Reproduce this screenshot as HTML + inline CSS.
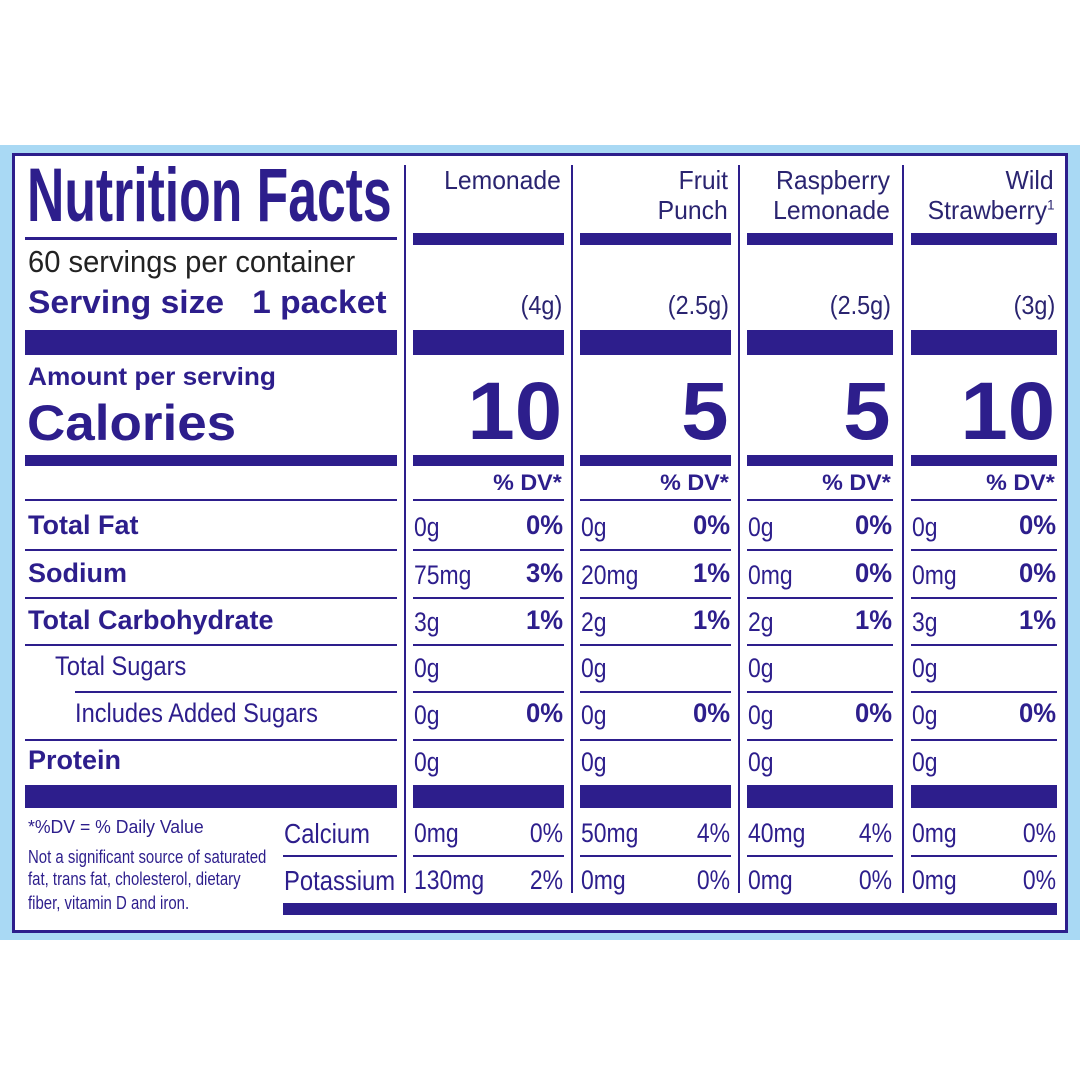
<!DOCTYPE html>
<html><head><meta charset="utf-8">
<style>
html,body{margin:0;padding:0;background:#fff;}
#c{position:relative;width:1080px;height:1080px;overflow:hidden;background:#fff;font-family:"Liberation Sans",sans-serif;color:#2d1e8c;}
.r{position:absolute;background:#2d1e8c;}
.t{position:absolute;white-space:nowrap;line-height:1;}
.L{transform-origin:left center;}
.R{transform-origin:right center;text-align:right;}
.b{font-weight:bold;}
</style></head><body>
<div id="c">
<div style="position:absolute;left:0;top:145px;width:1080px;height:795px;background:#a9d9f4;"></div>
<div style="position:absolute;left:12px;top:153px;width:1050px;height:774px;background:#fff;border:3px solid #2d1e8c;"></div>
</div>
<script>
var c=document.getElementById('c');
function rect(x,y,w,h){var d=document.createElement('div');d.className='r';d.style.cssText='left:'+x+'px;top:'+y+'px;width:'+w+'px;height:'+h+'px';c.appendChild(d);}
function txt(s,x,cy,fs,bold,align,sx,col){var d=document.createElement('div');d.className='t '+align+(bold?' b':'');d.innerHTML=s;
 var st='font-size:'+fs+'px;top:'+(cy-fs*0.55)+'px;transform:scaleX('+sx+');';
 if(align=='L')st+='left:'+x+'px;';else st+='right:'+(1080-x)+'px;';
 if(col)st+='color:'+col+';';
 d.style.cssText=st;c.appendChild(d);}
var cols=[[413,564],[580,731],[747,893],[911,1057]];
var seps=[404,571,738,902];
seps.forEach(function(x){rect(x,165,2,728);});
txt('Nutrition Facts',27,200,76,1,'L',0.68);
rect(25,237,372,3);
txt('60 servings per container',28,263,31,0,'L',0.94,'#222');
txt('Serving size&nbsp;&nbsp;&nbsp;1 packet',28,304,32,1,'L',1.05);
rect(25,330,372,25);
txt('Amount per serving',28,379,25,1,'L',1.05);
txt('Calories',27,425,50,1,'L',1.06);
rect(25,455,372,11);
rect(25,499,372,2);
var rows=[['Total Fat',527,28,1],['Sodium',575,28,1],['Total Carbohydrate',622,28,1],['Total Sugars',668,55,0],['Includes Added Sugars',715,75,0],['Protein',762,28,1]];
rows.forEach(function(r){txt(r[0],r[2],r[1],27,r[3],'L',r[3]?1.0:0.875);});
[[550,25],[598,25],[645,25],[692,75],[740,25]].forEach(function(l){rect(l[1],l[0]-1,397-l[1],2);});
rect(25,785,372,23);
txt('*%DV = % Daily Value',28,828,18,0,'L',0.98);
txt('Not a significant source of saturated',28,858,18,0,'L',0.83);
txt('fat, trans fat, cholesterol, dietary',28,880,18,0,'L',0.83);
txt('fiber, vitamin D and iron.',28,904,18,0,'L',0.83);
txt('Calcium',284,835,28,0,'L',0.85);
txt('Potassium',284,882,28,0,'L',0.85);
rect(283,855,114,2);
rect(283,903,774,12);
var hdr=[['Lemonade'],['Fruit','Punch'],['Raspberry','Lemonade'],['Wild','Strawberry<sup style="font-size:14px">1</sup>']];
var serv=['(4g)','(2.5g)','(2.5g)','(3g)'];
var cal=['10','5','5','10'];
var data=[
 [['0g','0%'],['75mg','3%'],['3g','1%'],['0g',''],['0g','0%'],['0g','']],
 [['0g','0%'],['20mg','1%'],['2g','1%'],['0g',''],['0g','0%'],['0g','']],
 [['0g','0%'],['0mg','0%'],['2g','1%'],['0g',''],['0g','0%'],['0g','']],
 [['0g','0%'],['0mg','0%'],['3g','1%'],['0g',''],['0g','0%'],['0g','']]];
var min=[[['0mg','0%'],['130mg','2%']],[['50mg','4%'],['0mg','0%']],[['40mg','4%'],['0mg','0%']],[['0mg','0%'],['0mg','0%']]];
cols.forEach(function(cc,i){
 var L=cc[0],R=cc[1],W=R-L;
 txt(hdr[i][0],R-3,181,26,0,'R',0.95,'#2a2470');
 if(hdr[i][1])txt(hdr[i][1],R-3,211,26,0,'R',0.95,'#2a2470');
 rect(L,233,W,12);
 txt(serv[i],R-2,306,26,0,'R',0.9,'#2a2470');
 rect(L,330,W,25);
 txt(cal[i],R-2,416,82,1,'R',1.04);
 rect(L,455,W,11);
 txt('% DV*',R-2,484,22,1,'R',1.06);
 rect(L,499,W,2);
 rows.forEach(function(r,j){
  txt(data[i][j][0],L+1,r[1]+2,27,0,'L',0.85);
  if(data[i][j][1])txt(data[i][j][1],R-1,r[1],27,1,'R',0.95);
 });
 [550,598,645,692,740].forEach(function(y){rect(L,y-1,W,2);});
 rect(L,785,W,23);
 txt(min[i][0][0],L+1,835,27,0,'L',0.85);txt(min[i][0][1],R-1,835,27,0,'R',0.85);
 rect(L,855,W,2);
 txt(min[i][1][0],L+1,882,27,0,'L',0.85);txt(min[i][1][1],R-1,882,27,0,'R',0.85);
});
</script>
</body></html>
